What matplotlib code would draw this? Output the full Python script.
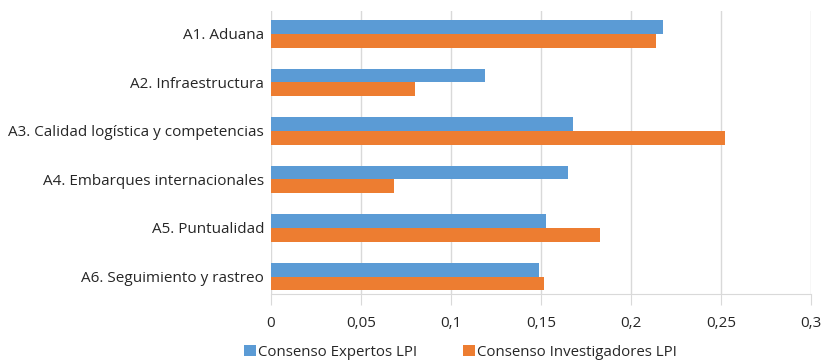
import matplotlib
matplotlib.use("Agg")
import matplotlib.pyplot as plt
import numpy as np

categories = [
    "A1. Aduana",
    "A2. Infraestructura",
    "A3. Calidad logística y competencias",
    "A4. Embarques internacionales",
    "A5. Puntualidad",
    "A6. Seguimiento y rastreo",
]
expertos = [0.2175, 0.1188, 0.1676, 0.1648, 0.1530, 0.1487]
investigadores = [0.2140, 0.0800, 0.2523, 0.0683, 0.1826, 0.1515]
series_names = ["Consenso Expertos LPI", "Consenso Investigadores LPI"]
xticks = [0, 0.05, 0.1, 0.15, 0.2, 0.25, 0.3]
xtick_labels = ["0", "0,05", "0,1", "0,15", "0,2", "0,25", "0,3"]

plt.rcParams["font.family"] = ["Open Sans", "DejaVu Sans"]

text_color = "#262626"
grid_color = "#D9D9D9"
blue = "#5B9BD5"
orange = "#ED7D31"

fig = plt.figure(figsize=(8.26, 3.62), dpi=100)
ax = fig.add_axes([271 / 826, 1 - 294 / 362, 540 / 826, 283 / 362])

y = np.arange(len(categories))
h = 0.285
ax.barh(y - h / 2, expertos, height=h, color=blue, label=series_names[0], zorder=3)
ax.barh(y + h / 2, investigadores, height=h, color=orange, label=series_names[1], zorder=3)

ax.set_xlim(0, 0.3)
ax.set_ylim(5.36, -0.47)
ax.set_yticks(y)
ax.set_yticklabels(categories, fontsize=11, color=text_color)
ax.set_xticks(xticks)
ax.set_xticklabels(xtick_labels, fontsize=11, color=text_color)

ax.grid(axis="x", color=grid_color, linewidth=1, zorder=0)
for side in ["top", "right", "left"]:
    ax.spines[side].set_visible(False)
ax.spines["bottom"].set_color(grid_color)
ax.tick_params(axis="y", length=0, pad=5)
ax.tick_params(axis="x", length=8, color=grid_color, pad=8)

leg = fig.legend(
    loc="lower left",
    bbox_to_anchor=(242 / 826, 0.0),
    ncol=2,
    frameon=False,
    fontsize=10.8,
    handlelength=0.8,
    handleheight=0.8,
    handletextpad=0.15,
    columnspacing=3.0,
    borderpad=0.15,
    borderaxespad=0,
    labelcolor=text_color,
)

fig.savefig("out.png", dpi=100)
